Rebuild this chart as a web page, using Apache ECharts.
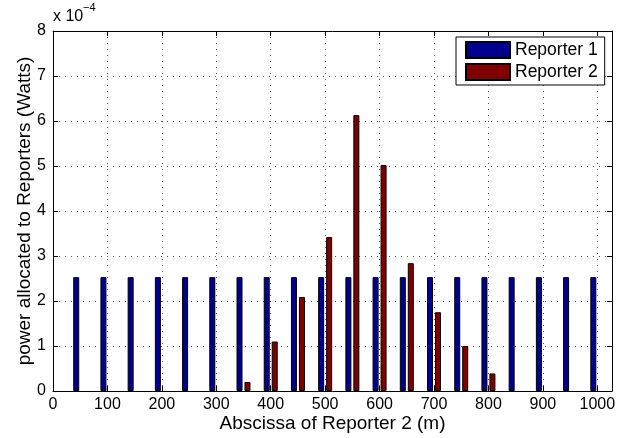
<!DOCTYPE html>
<html>
<head>
<meta charset="utf-8">
<script src="https://cdn.jsdelivr.net/npm/echarts@6/dist/echarts.min.js"></script>
<style>
html,body{margin:0;padding:0;background:#fff;}
#chart{width:630px;height:438px;}
</style>
</head>
<body>
<div id="chart"></div>
<script>
// Abscissa of Reporter 2 (m)
var positions = [50,100,150,200,250,300,350,400,450,500,550,600,650,700,750,800,850,900,950,1000];
// power in units of 1e-4 W
var reporter1 = [2.53,2.53,2.53,2.53,2.53,2.53,2.53,2.53,2.53,2.53,2.53,2.53,2.53,2.53,2.53,2.53,2.53,2.53,2.53,2.53];
var reporter2 = [0,0,0,0,0,0,0.2,1.1,2.09,3.42,6.13,5.02,2.84,1.75,1.0,0.39,0,0,0,0];
var seriesNames = ['Reporter 1','Reporter 2'];
var xTicks = [0,100,200,300,400,500,600,700,800,900,1000];
var yTicks = [0,1,2,3,4,5,6,7,8];

var FONT = 'Liberation Sans, Arial, Helvetica, sans-serif';
function pairs(vals){
  return positions.map(function(x,i){
    var item = {value:[x, vals[i]]};
    if (vals[i] === 0) item.itemStyle = {borderWidth:0};
    return item;
  });
}

var chart = echarts.init(document.getElementById('chart'), null, {renderer:'canvas'});
var dotted = {color:'#555', width:1, type:[1,5]};
var option = {
  animation:false,
  backgroundColor:'#fff',
  grid:{left:53, right:18, top:31, bottom:47, show:false, containLabel:false, outerBoundsMode:'none'},
  legend:{
    orient:'vertical', left:456, top:37,
    padding:[4,7,4,9], itemGap:4,
    itemWidth:44, itemHeight:16, icon:'rect',
    borderColor:'#000', borderWidth:1, backgroundColor:'#fff',
    textStyle:{fontFamily:FONT, fontSize:17.5, color:'#000', padding:[0,0,0,0]},
    data:seriesNames
  },
  xAxis:[{
    type:'value', min:0, max:1027, interval:100, position:'bottom',
    name:'Abscissa of Reporter 2 (m)', nameLocation:'middle', nameGap:23, nameMoveOverlap:false,
    nameTextStyle:{fontFamily:FONT, fontSize:19, color:'#000'},
    axisLine:{show:true, lineStyle:{color:'#000', width:1}},
    axisTick:{show:true, inside:true, length:5, lineStyle:{color:'#000'}},
    axisLabel:{fontFamily:FONT, fontSize:16, color:'#000', margin:6,
      showMaxLabel:false,
      formatter:function(v){ return xTicks.indexOf(v) >= 0 ? String(v) : ''; }},
    splitLine:{show:true, lineStyle:dotted}
  },{
    type:'value', min:0, max:1027, interval:100, position:'top',
    axisLine:{show:true, onZero:false, lineStyle:{color:'#000', width:1}},
    axisTick:{show:true, inside:true, length:5, lineStyle:{color:'#000'}},
    axisLabel:{show:false}, splitLine:{show:false}
  }],
  yAxis:[{
    type:'value', min:0, max:8, interval:1, position:'left',
    name:'power allocated to Reporters (Watts)', nameLocation:'middle', nameGap:19, nameMoveOverlap:false,
    nameTextStyle:{fontFamily:FONT, fontSize:19, color:'#000'},
    axisLine:{show:true, lineStyle:{color:'#000', width:1}},
    axisTick:{show:true, inside:true, length:5, lineStyle:{color:'#000'}},
    axisLabel:{fontFamily:FONT, fontSize:16, color:'#000', margin:7,
      formatter:function(v){ return yTicks.indexOf(v) >= 0 ? String(v) : ''; }},
    splitLine:{show:true, lineStyle:dotted}
  },{
    type:'value', min:0, max:8, interval:1, position:'right',
    axisLine:{show:true, onZero:false, lineStyle:{color:'#000', width:1}},
    axisTick:{show:true, inside:true, length:5, lineStyle:{color:'#000'}},
    axisLabel:{show:false}, splitLine:{show:false}
  }],
  series:[{
    name:seriesNames[0], type:'bar', xAxisIndex:0, yAxisIndex:0,
    data:pairs(reporter1), barWidth:6, barGap:'33%',
    itemStyle:{color:'#00008F', borderColor:'#000', borderWidth:1}
  },{
    name:seriesNames[1], type:'bar', xAxisIndex:0, yAxisIndex:0,
    data:pairs(reporter2), barWidth:6, barGap:'33%',
    itemStyle:{color:'#800000', borderColor:'#000', borderWidth:1}
  }],
  graphic:[
    {type:'text', left:53, top:9, style:{text:'x 10', fontFamily:FONT, fontSize:16, fill:'#000'}},
    {type:'text', left:83, top:2, style:{text:'\u22124', fontFamily:FONT, fontSize:11, fill:'#000'}}
  ]
};
chart.setOption(option);
</script>
</body>
</html>
